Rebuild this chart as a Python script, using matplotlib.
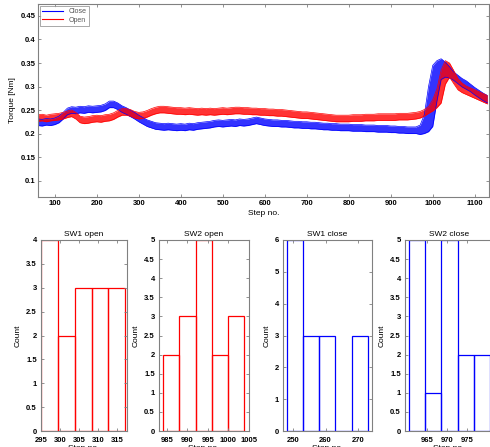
import numpy as np
import matplotlib
matplotlib.use("Agg")
import matplotlib.pyplot as plt
from matplotlib.ticker import FormatStrFormatter

plt.rcParams['font.family'] = ['Liberation Sans', 'DejaVu Sans']
plt.rcParams['font.size'] = 5.5
plt.rcParams['font.weight'] = 'bold'

# ---- top chart: torque band per direction, read every 10 steps ----
steps = np.arange(60, 1131, 10)

close_mid = [0.224, 0.223, 0.225, 0.224, 0.226, 0.230, 0.238, 0.247, 0.250, 0.249,
             0.251, 0.250, 0.252, 0.251, 0.252, 0.253, 0.256, 0.262, 0.262, 0.258,
             0.252, 0.248, 0.243, 0.238, 0.232, 0.227, 0.222, 0.219, 0.216, 0.215,
             0.214, 0.215, 0.214, 0.213, 0.214, 0.213, 0.215, 0.214, 0.216, 0.217,
             0.218, 0.219, 0.221, 0.222, 0.221, 0.222, 0.223, 0.222, 0.224, 0.223,
             0.224, 0.226, 0.228, 0.226, 0.224, 0.223, 0.222, 0.222, 0.221, 0.221,
             0.220, 0.219, 0.219, 0.218, 0.218, 0.217, 0.217, 0.216, 0.215, 0.215,
             0.214, 0.214, 0.213, 0.213, 0.213, 0.212, 0.212, 0.212, 0.211, 0.211,
             0.211, 0.210, 0.210, 0.210, 0.209, 0.209, 0.208, 0.208, 0.207, 0.207,
             0.207, 0.208, 0.220, 0.252, 0.280, 0.312, 0.337, 0.336, 0.330, 0.322,
             0.315, 0.308, 0.303, 0.297, 0.290, 0.284, 0.278, 0.273]
close_half = [0.007] * 91 + [0.010, 0.020, 0.048, 0.065, 0.043, 0.022, 0.016, 0.012,
                             0.009, 0.009, 0.009, 0.009, 0.008, 0.008, 0.008, 0.008, 0.008]

open_mid = [0.233, 0.234, 0.232, 0.234, 0.235, 0.236, 0.238, 0.241, 0.243, 0.238,
            0.230, 0.228, 0.229, 0.231, 0.232, 0.231, 0.233, 0.234, 0.237, 0.242,
            0.246, 0.246, 0.244, 0.240, 0.238, 0.239, 0.242, 0.246, 0.249, 0.251,
            0.251, 0.250, 0.249, 0.248, 0.248, 0.247, 0.248, 0.247, 0.246, 0.247,
            0.246, 0.247, 0.246, 0.247, 0.248, 0.247, 0.248, 0.249, 0.249, 0.248,
            0.248, 0.247, 0.247, 0.246, 0.246, 0.245, 0.245, 0.244, 0.244, 0.243,
            0.242, 0.241, 0.240, 0.239, 0.239, 0.238, 0.237, 0.236, 0.235, 0.234,
            0.233, 0.232, 0.232, 0.232, 0.232, 0.233, 0.233, 0.233, 0.234, 0.234,
            0.234, 0.235, 0.235, 0.235, 0.235, 0.235, 0.236, 0.236, 0.236, 0.237,
            0.238, 0.240, 0.244, 0.250, 0.260, 0.275, 0.300, 0.330, 0.335, 0.320,
            0.305, 0.297, 0.292, 0.288, 0.284, 0.280, 0.276, 0.272]
open_half = [0.007] * 94 + [0.012, 0.020, 0.035, 0.025, 0.015, 0.014, 0.012,
                            0.010, 0.009, 0.009, 0.009, 0.009, 0.009, 0.009]

# ---- histograms: bin edges and counts ----
hist_titles = ['SW1 open', 'SW2 open', 'SW1 close', 'SW2 close']
hist_edges = [[295.1, 299.5, 303.9, 308.3, 312.7, 317.1],
              [984.1, 988.05, 992.0, 995.95, 999.9, 1003.85],
              [248.0, 253.0, 258.0, 263.0, 268.0, 273.0],
              [960.6, 964.6, 968.6, 972.6, 976.6, 980.6]]
hist_counts = [[4, 2, 3, 3, 3],
               [2, 3, 5, 2, 3],
               [6, 3, 3, 0, 3],
               [5, 1, 5, 2, 2]]
hist_xlims = [(295, 317.5), (983.1, 1005), (247.0, 274.2), (959.6, 981.3)]
hist_xticks = [[295, 300, 305, 310, 315], [985, 990, 995, 1000, 1005],
               [250, 260, 270], [965, 970, 975]]
hist_ymax = [4, 5, 6, 5]
hist_ystep = [0.5, 0.5, 1, 0.5]
hist_colors = ['r', 'r', 'b', 'b']

W, H = 490, 447
fig = plt.figure(figsize=(W / 100, H / 100), dpi=100)


def style(ax):
    for s in ax.spines.values():
        s.set_color('#808080')
        s.set_linewidth(0.8)
    ax.tick_params(direction='in', length=2.5, width=0.6, top=True, right=True,
                   colors='#808080', labelcolor='black', pad=2)


ax = fig.add_axes([38 / W, 1 - 197 / H, 451 / W, 193 / H])
cm = np.array(close_mid)
ch = np.array(close_half)
om = np.array(open_mid)
oh = np.array(open_half)
ax.fill_between(steps, cm - ch, cm + ch, color='b', alpha=0.8, lw=0)
ax.plot(steps, cm - ch, color='b', lw=0.5)
ax.plot(steps, cm + ch, color='b', lw=0.5)
ax.fill_between(steps, om - oh, om + oh, color='r', alpha=0.8, lw=0)
ax.plot(steps, om - oh, color='r', lw=0.5)
ax.plot(steps, om + oh, color='r', lw=0.5)
ax.plot([], [], color='b', lw=0.8, label='Close')
ax.plot([], [], color='r', lw=0.8, label='Open')
ax.set_xlim(60, 1134)
ax.set_ylim(0.065, 0.4755)
ax.set_xticks(np.arange(100, 1101, 100))
ax.set_yticks([0.1, 0.15, 0.2, 0.25, 0.3, 0.35, 0.4, 0.45])
ax.yaxis.set_major_formatter(FormatStrFormatter('%g'))
ax.set_xlabel('Step no.', labelpad=2, fontweight='normal', fontsize=6)
ax.set_ylabel('Torque [Nm]', labelpad=3, fontsize=6)
style(ax)
leg = ax.legend(loc='upper left', handlelength=3, borderpad=0.3,
                labelspacing=0.2, fancybox=False, borderaxespad=0.3,
                prop={'weight': 'normal', 'size': 5})
leg.get_frame().set_edgecolor('#808080')
leg.get_frame().set_linewidth(0.6)
for t in leg.get_texts():
    t.set_color('#555555')

lefts = [41, 159, 283.3, 405]
widths = [85.7, 90, 88.4, 88]
for i in range(4):
    hx = fig.add_axes([lefts[i] / W, 1 - 431 / H, widths[i] / W, 191 / H])
    e = np.array(hist_edges[i])
    hx.bar(e[:-1], hist_counts[i], width=np.diff(e), align='edge', fill=False,
           edgecolor=hist_colors[i], linewidth=0.9)
    hx.set_xlim(*hist_xlims[i])
    hx.set_ylim(0, hist_ymax[i])
    hx.set_xticks(hist_xticks[i])
    hx.set_yticks(np.arange(0, hist_ymax[i] + 0.01, hist_ystep[i]))
    hx.yaxis.set_major_formatter(FormatStrFormatter('%g'))
    hx.set_title(hist_titles[i], fontsize=6, pad=3)
    hx.set_ylabel('Count', labelpad=3, fontsize=6)
    hx.set_xlabel('Step no.', labelpad=1, fontsize=6)
    style(hx)
    hx.tick_params(axis='y', pad=3)
    hx.tick_params(axis='x', pad=4)

fig.savefig('out.png', dpi=100)
